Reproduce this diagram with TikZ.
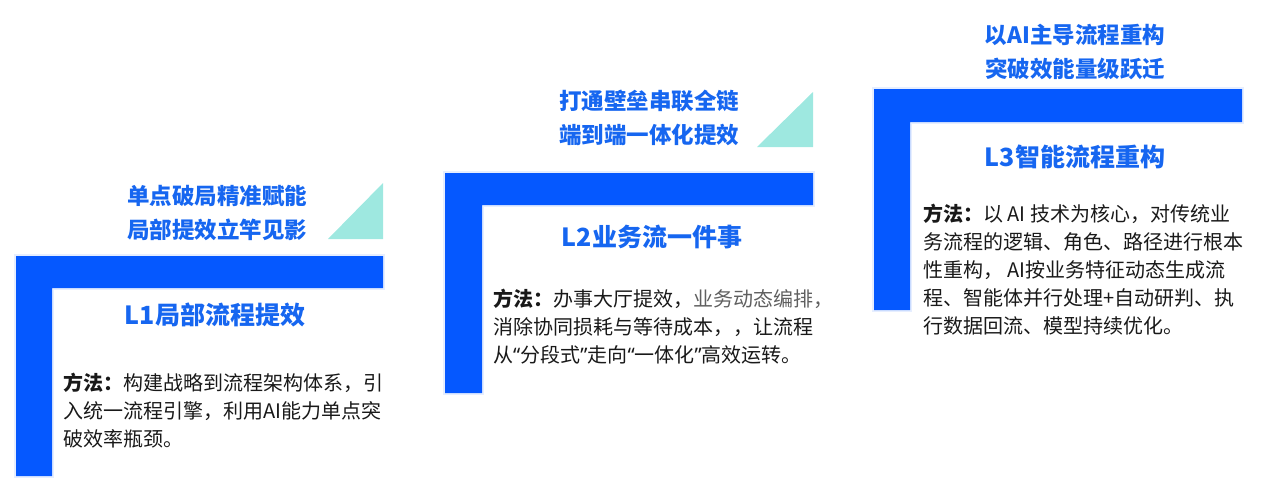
\documentclass[tikz,border=0pt]{standalone}
\usepackage{fontspec}
\setmainfont{Noto Sans CJK SC}
\newfontfamily\quotefont{Noto Sans}
\definecolor{barblue}{RGB}{5,88,255}
\definecolor{titleblue}{RGB}{22,102,240}
\definecolor{mint}{RGB}{158,232,224}
\definecolor{softgray}{RGB}{95,95,95}

\begin{document}
\begin{tikzpicture}[x=1pt,y=-1pt,
	bar/.style={fill=barblue,preaction={draw=barblue!10,line width=4pt}},
	wedge/.style={fill=mint},
	slogan/.style={text=titleblue,font=\bfseries\fontsize{22.5}{34}\selectfont,align=center,inner sep=0pt},
	level/.style={text=titleblue,font=\bfseries\fontsize{25}{30}\selectfont,inner sep=0pt},
	method/.style={text=black!90,font=\fontsize{20}{28}\selectfont,align=left,anchor=north west,inner sep=0pt}]
	\useasboundingbox (0,0) rectangle (1267,488);

	% L1
	\fill[wedge] (328,239) -- (383,239) -- (383,183) -- cycle;
	\fill[bar] (16,256) -- (383,256) -- (383,288) -- (52,288) -- (52,476) -- (16,476) -- cycle;
	\node[slogan] (slogan1) at (217,213) {单点破局精准赋能\\局部提效立竿见影};
	\node[level]  (level1)  at (215,315) {L1局部流程提效};
	\node[method] (method1) at (63,373) {\textbf{方法：}构建战略到流程架构体系，引\\入统一流程引擎，利用AI能力单点突\\破效率瓶颈。};

	% L2
	\fill[wedge] (757,147) -- (813,147) -- (813,92) -- cycle;
	\fill[bar] (445,173) -- (813,173) -- (813,205) -- (482,205) -- (482,393) -- (445,393) -- cycle;
	\node[slogan] (slogan2) at (649,118) {打通壁垒串联全链\\端到端一体化提效};
	\node[level]  (level2)  at (652,237) {L2业务流一件事};
	\node[method] (method2) at (493,289) {\textbf{方法：}办事大厅提效，{\color{softgray}业务动态编排，}\\消除协同损耗与等待成本，，让流程\\从{\quotefont “}分段式{\quotefont ”}走向{\quotefont “}一体化{\quotefont ”}高效运转。};

	% L3
	\fill[bar] (874,89) -- (1242,89) -- (1242,122) -- (910,122) -- (910,310) -- (874,310) -- cycle;
	\node[slogan] (slogan3) at (1075,52) {以AI主导流程重构\\突破效能量级跃迁};
	\node[level]  (level3)  at (1075,157) {L3智能流程重构};
	\node[method] (method3) at (923,204) {\textbf{方法：}以 AI 技术为核心，对传统业\\务流程的逻辑、角色、路径进行根本\\性重构， AI按业务特征动态生成流\\程、智能体并行处理+自动研判、执\\行数据回流、模型持续优化。};
\end{tikzpicture}
\end{document}
